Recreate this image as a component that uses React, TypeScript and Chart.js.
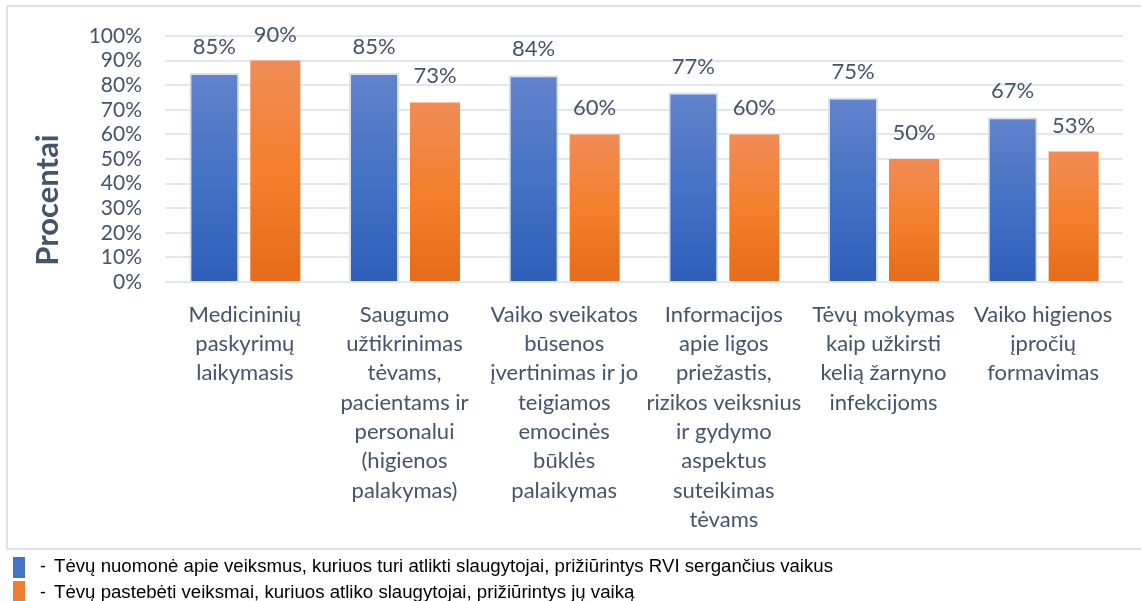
import React, { useEffect, useRef } from 'react';
import { Chart, registerables } from 'chart.js';

Chart.register(...registerables);

// ---- data ----
const categories: string[][] = [
  ['Medicininių', 'paskyrimų', 'laikymasis'],
  ['Saugumo', 'užtikrinimas', 'tėvams,', 'pacientams ir', 'personalui', '(higienos', 'palakymas)'],
  ['Vaiko sveikatos', 'būsenos', 'įvertinimas ir jo', 'teigiamos', 'emocinės', 'būklės', 'palaikymas'],
  ['Informacijos', 'apie ligos', 'priežastis,', 'rizikos veiksnius', 'ir gydymo', 'aspektus', 'suteikimas', 'tėvams'],
  ['Tėvų mokymas', 'kaip užkirsti', 'kelią žarnyno', 'infekcijoms'],
  ['Vaiko higienos', 'įpročių', 'formavimas'],
];
const opinionValues: number[] = [85, 85, 84, 77, 75, 67];
const observedValues: number[] = [90, 73, 60, 60, 50, 53];
const seriesLabels: string[] = [
  'Tėvų nuomonė apie veiksmus, kuriuos turi atlikti slaugytojai, prižiūrintys RVI sergančius vaikus',
  'Tėvų pastebėti veiksmai, kuriuos atliko slaugytojai, prižiūrintys jų vaiką',
];
const yMin = 0;
const yMax = 100;
const yStep = 10;
const yTitle = 'Procentai';

// ---- styles ----
const TEXT = '#44546A';
const BLUE_STOPS = ['#6383CC', '#4472C4', '#2E5EB8'];
const ORANGE_STOPS = ['#F08C57', '#F47F2C', '#E56C19'];
const LEGEND_COLORS = ['#4472C4', '#ED7D31'];
const FONT = 'Lato, "Open Sans", sans-serif';

function barGradient(c: any, stops: string[]) {
  const chart = c.chart;
  if (!chart.chartArea || c.type !== 'data') return stops[1];
  const y = chart.scales.y;
  const top = y.getPixelForValue(c.raw as number);
  const bottom = y.getPixelForValue(0);
  if (!isFinite(top) || !isFinite(bottom) || top === bottom) return stops[1];
  const g = chart.ctx.createLinearGradient(0, top, 0, bottom);
  g.addColorStop(0, stops[0]);
  g.addColorStop(0.5, stops[1]);
  g.addColorStop(1, stops[2]);
  return g;
}

const framePlugin = {
  id: 'frame',
  beforeDraw(chart: any) {
    const { ctx, width, height } = chart;
    ctx.save();
    ctx.fillStyle = '#FFFFFF';
    ctx.fillRect(0, 0, width, height);
    ctx.strokeStyle = '#D9D9D9';
    ctx.lineWidth = 1.5;
    ctx.strokeRect(7, 6, width + 20, 543);
    ctx.restore();
  },
};

const dataLabelPlugin = {
  id: 'dataLabels',
  afterDatasetsDraw(chart: any) {
    const { ctx } = chart;
    ctx.save();
    ctx.font = `22px ${FONT}`;
    ctx.fillStyle = TEXT;
    ctx.textAlign = 'center';
    ctx.textBaseline = 'alphabetic';
    chart.data.datasets.forEach((ds: any, i: number) => {
      const meta = chart.getDatasetMeta(i);
      meta.data.forEach((el: any, j: number) => {
        ctx.fillText(`${ds.data[j]}%`, el.x, el.y - 19);
      });
    });
    ctx.restore();
  },
};

const yTitlePlugin = {
  id: 'yTitleCustom',
  afterDraw(chart: any) {
    const { ctx, chartArea } = chart;
    ctx.save();
    ctx.font = `bold 31px ${FONT}`;
    ctx.fillStyle = TEXT;
    ctx.textAlign = 'center';
    ctx.textBaseline = 'alphabetic';
    ctx.translate(58, (chartArea.top + chartArea.bottom) / 2 + 41);
    ctx.rotate(-Math.PI / 2);
    ctx.fillText(yTitle, 0, 0);
    ctx.restore();
  },
};

const legendPlugin = {
  id: 'customLegend',
  afterDraw(chart: any) {
    const { ctx } = chart;
    ctx.save();
    ctx.font = '17.5px "Liberation Sans", Arial, sans-serif';
    ctx.fillStyle = '#000000';
    ctx.textBaseline = 'alphabetic';
    ctx.textAlign = 'left';
    const natural = ctx.measureText(seriesLabels[0]).width;
    const sx = natural > 0 ? 779 / natural : 1;
    const rows = [
      { boxTop: 557, boxH: 21, base: 572 },
      { boxTop: 581, boxH: 21, base: 598 },
    ];
    rows.forEach((r, i) => {
      ctx.fillStyle = LEGEND_COLORS[i];
      ctx.fillRect(13, r.boxTop, 12, r.boxH);
      ctx.fillStyle = '#000000';
      ctx.fillText('-', 40, r.base);
      ctx.save();
      ctx.translate(54, r.base);
      ctx.scale(sx, 1);
      ctx.fillText(seriesLabels[i], 0, 0);
      ctx.restore();
    });
    ctx.restore();
  },
};

export default function App() {
  const ref = useRef<HTMLCanvasElement | null>(null);

  useEffect(() => {
    document.body.style.margin = '0';
    const canvas = ref.current;
    if (!canvas) return;
    const chart = new Chart(canvas, {
      type: 'bar',
      data: {
        labels: categories,
        datasets: [
          {
            label: seriesLabels[0],
            data: opinionValues,
            backgroundColor: (c: any) => barGradient(c, BLUE_STOPS),
            borderColor: '#DCE0E8',
            borderWidth: 2,
            borderSkipped: 'bottom',
            barPercentage: 0.82,
            categoryPercentage: 0.764,
          },
          {
            label: seriesLabels[1],
            data: observedValues,
            backgroundColor: (c: any) => barGradient(c, ORANGE_STOPS),
            borderWidth: 0,
            barPercentage: 0.82,
            categoryPercentage: 0.764,
          },
        ],
      },
      options: {
        responsive: false,
        animation: false,
        devicePixelRatio: 1,
        layout: { padding: { top: 36, right: 18, bottom: 69, left: 0 } },
        plugins: {
          legend: { display: false },
          tooltip: { enabled: false },
          title: { display: false },
        },
        scales: {
          x: {
            grid: { display: false, drawTicks: false },
            border: { display: false },
            ticks: {
              autoSkip: false,
              maxRotation: 0,
              minRotation: 0,
              padding: 18,
              color: TEXT,
              font: { family: FONT, size: 22, lineHeight: 29.3 / 22 },
            },
            afterFit: (s: any) => {
              s.height = 250;
            },
          },
          y: {
            min: yMin,
            max: yMax,
            grid: { color: '#E2E5EA', lineWidth: 2, drawTicks: false },
            border: { display: false },
            ticks: {
              stepSize: yStep,
              autoSkip: false,
              padding: 23,
              color: TEXT,
              font: { family: FONT, size: 21 },
              callback: (v: any) => `${v}%`,
            },
            afterFit: (s: any) => {
              s.width = 165;
            },
          },
        },
      },
      plugins: [framePlugin, dataLabelPlugin, yTitlePlugin, legendPlugin],
    });
    return () => chart.destroy();
  }, []);

  return (
    <div style={{ width: 1141, height: 601 }}>
      <canvas ref={ref} width={1141} height={601} style={{ display: 'block' }} />
    </div>
  );
}
